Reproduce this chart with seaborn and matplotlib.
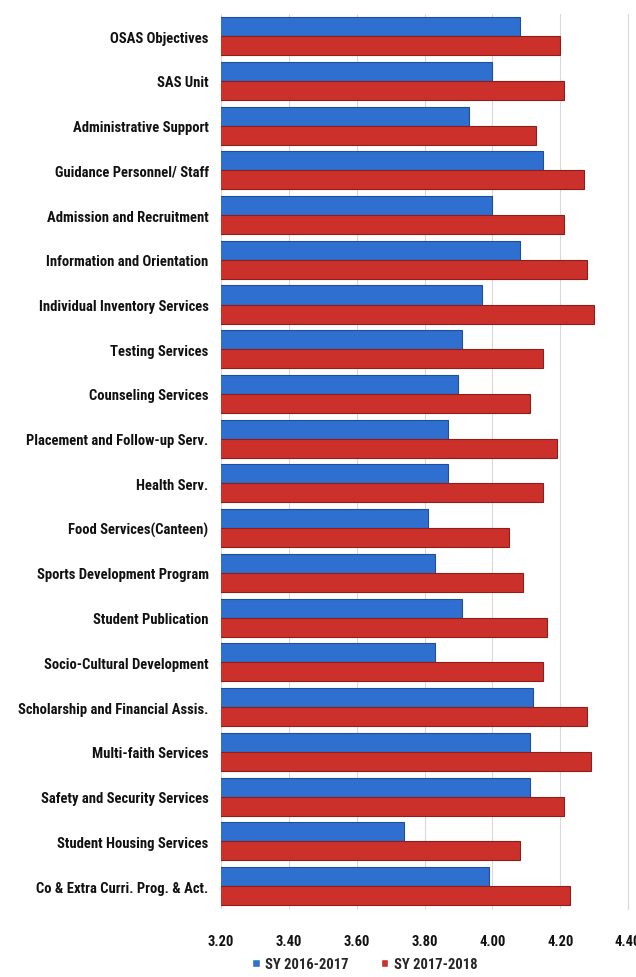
import pandas as pd
import matplotlib
matplotlib.use("Agg")
import matplotlib.pyplot as plt
import seaborn as sns

# Satisfaction ratings per service area
categories = [
    "OSAS Objectives", "SAS Unit", "Administrative Support",
    "Guidance Personnel/ Staff", "Admission and Recruitment",
    "Information and Orientation", "Individual Inventory Services",
    "Testing Services", "Counseling Services", "Placement and Follow-up Serv.",
    "Health Serv.", "Food Services(Canteen)", "Sports Development Program",
    "Student Publication", "Socio-Cultural Development",
    "Scholarship and Financial Assis.", "Multi-faith Services",
    "Safety and Security Services", "Student Housing Services",
    "Co & Extra Curri. Prog. & Act.",
]
sy_2016 = [4.08, 4.00, 3.93, 4.15, 4.00, 4.08, 3.97, 3.91, 3.90, 3.87,
           3.87, 3.81, 3.83, 3.91, 3.83, 4.12, 4.11, 4.11, 3.74, 3.99]
sy_2017 = [4.20, 4.21, 4.13, 4.27, 4.21, 4.28, 4.30, 4.15, 4.11, 4.19,
           4.15, 4.05, 4.09, 4.16, 4.15, 4.28, 4.29, 4.21, 4.08, 4.23]
series_names = ["SY 2016-2017", "SY 2017-2018"]
x_ticks = [3.20, 3.40, 3.60, 3.80, 4.00, 4.20, 4.40]

df = pd.concat([
    pd.DataFrame({"category": categories, "score": sy_2016, "year": series_names[0]}),
    pd.DataFrame({"category": categories, "score": sy_2017, "year": series_names[1]}),
])

sns.set_style("white")
plt.rcParams["font.family"] = ["Roboto Condensed", "Roboto", "DejaVu Sans"]
plt.rcParams["font.weight"] = "bold"

fig = plt.figure(figsize=(6.36, 9.78), dpi=100)
ax = fig.add_axes([0.3475, 0.07, 0.64, 0.915])

palette = {series_names[0]: "#2f6fcf", series_names[1]: "#cc302b"}
sns.barplot(data=df, y="category", x="score", hue="year", orient="h",
            palette=palette, width=0.85, saturation=1, ax=ax, legend=True)

for bar, c in zip(ax.patches, ["#1d4f9c"] * 20 + ["#8e1e1a"] * 20):
    bar.set_edgecolor(c)
    bar.set_linewidth(0.8)

ax.set_xlim(3.2, 4.4)
ax.set_xticks(x_ticks)
ax.set_xticklabels([f"{t:.2f}" for t in x_ticks])
ax.xaxis.grid(True, color="#d9d9d9", linewidth=0.8)
ax.set_axisbelow(True)
ax.set_xlabel("")
ax.set_ylabel("")
for s in ["top", "left", "bottom"]:
    ax.spines[s].set_visible(False)
ax.spines["right"].set_color("#d9d9d9")
ax.tick_params(axis="y", length=0, pad=9, labelsize=10.5)
ax.tick_params(axis="x", length=0, pad=18, labelsize=10.5)
for lbl in ax.get_yticklabels() + ax.get_xticklabels():
    lbl.set_fontweight("bold")
    lbl.set_color("#111111")

handles, labels = ax.get_legend_handles_labels()
ax.legend(handles, labels, loc="center", bbox_to_anchor=(0.354, -0.062),
          ncol=2, frameon=False, handlelength=0.5,
          handleheight=0.5, handletextpad=0.4, columnspacing=2.2,
          prop={"weight": "bold", "size": 10.5})

fig.savefig("out.png", dpi=100)
